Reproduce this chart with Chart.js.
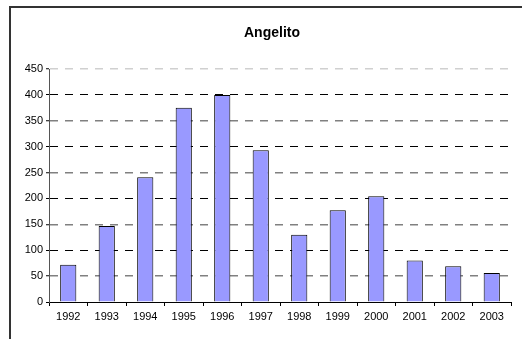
<!DOCTYPE html>
<html>
<head>
<meta charset="utf-8">
<script src="https://cdn.jsdelivr.net/npm/chart.js@4/dist/chart.umd.min.js"></script>
<style>
  html, body { margin: 0; padding: 0; background: #fff; }
  #wrap { width: 522px; height: 339px; position: relative; }
</style>
</head>
<body>
<div id="wrap"><canvas id="angelitoChart"></canvas></div>
<script>
// chart data
const years = ['1992', '1993', '1994', '1995', '1996', '1997', '1998', '1999', '2000', '2001', '2002', '2003'];
const counts = [72, 147, 241, 375, 400, 293, 130, 177, 204, 80, 69, 56];
const chartTitle = 'Angelito';

// frame + title drawn by hand, like the old spreadsheet export
const framePlugin = {
    id: 'frame',
    beforeDraw(chart) {
        const c = chart.ctx;
        c.save();
        c.fillStyle = '#fff';
        c.fillRect(0, 0, chart.width, chart.height);
        c.fillStyle = '#333';
        c.fillRect(9, 6, chart.width - 9, 2);
        c.fillRect(9, 6, 2, chart.height - 6);
        c.restore();
    },
    afterDraw(chart) {
        const c = chart.ctx;
        c.save();
        c.font = 'bold 14px "Liberation Sans", Arial, sans-serif';
        c.fillStyle = '#000';
        c.textAlign = 'center';
        c.textBaseline = 'middle';
        c.fillText(chartTitle, 272, 33);
        c.restore();
    }
};

function gridColor(ctx) {
    const v = ctx.tick.value;
    if (v === 0) return 'rgba(0,0,0,0)';
    if (v === 450) return '#d0d0d0';
    return (v / 50) % 2 === 1 ? '#808080' : '#000';
}

const tickFont = { family: '"Liberation Sans", Arial, sans-serif', size: 11 };

const ctx = document.getElementById('angelitoChart').getContext('2d');
new Chart(ctx, {
    type: 'bar',
    data: {
        labels: years,
        datasets: [{
            data: counts,
            backgroundColor: '#9999ff',
            borderColor: '#000',
            borderWidth: 1,
            categoryPercentage: 1,
            barPercentage: 0.42
        }]
    },
    options: {
        responsive: true,
        maintainAspectRatio: false,
        animation: false,
        layout: { padding: { left: 0, right: 11, top: 69, bottom: 0 } },
        plugins: { legend: { display: false }, tooltip: { enabled: false }, title: { display: false } },
        scales: {
            x: {
                offset: true,
                grid: { offset: true, drawOnChartArea: false, tickLength: 4, color: '#000' },
                border: { color: '#000', width: 1 },
                ticks: { color: '#000', font: tickFont, padding: 4, maxRotation: 0 },
                afterFit(scale) { scale.height = 37; }
            },
            y: {
                min: 0,
                max: 450,
                ticks: { stepSize: 50, color: '#000', font: tickFont, padding: 3 },
                grid: {
                    color: gridColor,
                    lineWidth: ctx => ((ctx.tick.value / 50) % 2 === 1 ? 1.5 : 1),
                    tickColor: '#000',
                    tickWidth: 1,
                    tickLength: 3
                },
                border: { color: '#555', width: 1, dash: [8, 7] },
                afterFit(scale) { scale.width = 49; }
            }
        }
    },
    plugins: [framePlugin]
});
</script>
</body>
</html>
